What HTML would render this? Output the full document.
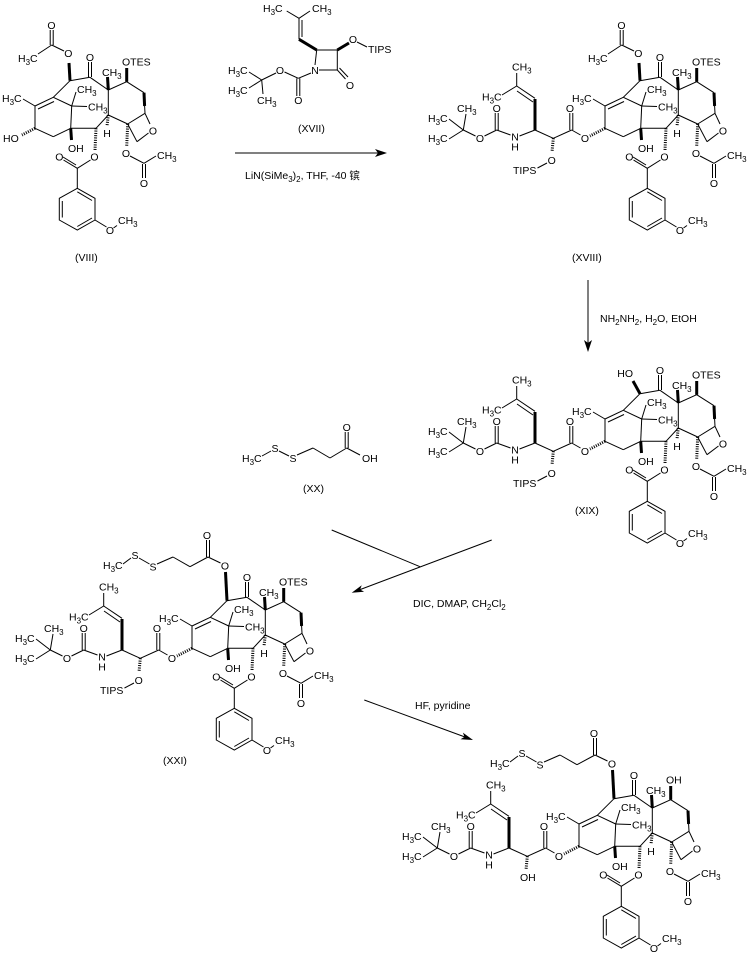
<!DOCTYPE html>
<html><head><meta charset="utf-8"><style>
html,body{margin:0;padding:0;background:#fff;}
svg{display:block;}
svg text{font-family:"Liberation Sans","Noto Sans CJK SC",sans-serif;font-size:10.5px;fill:#000;}
svg text .s{font-size:8px;}
line{stroke:#000;stroke-width:1;fill:none;}
line.b{stroke-width:3;}
line.h{stroke-width:3;stroke-dasharray:1 1.3;}
polygon.r{fill:none;stroke:#000;stroke-width:1;}
polygon.a{fill:#000;stroke:none;}
</style></head><body>
<svg width="750" height="956" viewBox="0 0 750 956" xmlns="http://www.w3.org/2000/svg">

<!-- ===================== VIII ===================== -->
<g transform="translate(0,0)">
<line x1="70" y1="80.7" x2="90" y2="77.3"/>
<line x1="88.5" y1="77" x2="88.5" y2="62"/><line x1="91.5" y1="77" x2="91.5" y2="62"/>
<text x="90" y="61" text-anchor="middle">O</text>
<line x1="90" y1="77.3" x2="108.3" y2="90"/>
<line x1="108.3" y1="90" x2="126.7" y2="81.7"/>
<line x1="126.7" y1="81.7" x2="144" y2="92.7"/>
<line class="b" x1="144" y1="92.7" x2="144.6" y2="106"/><line x1="144.6" y1="106" x2="145" y2="113.3"/>
<line x1="145" y1="113.3" x2="150" y2="124"/>
<text x="153" y="134.5" text-anchor="middle">O</text>
<line x1="148.5" y1="133" x2="137" y2="141.7"/>
<line x1="137" y1="141.7" x2="127.7" y2="124"/>
<line x1="127.7" y1="124" x2="145" y2="113.3"/>
<line x1="127.7" y1="124" x2="108.3" y2="115"/>
<line x1="108.3" y1="115" x2="108.3" y2="90"/>
<line x1="108.3" y1="115" x2="96" y2="128.3"/>
<line x1="96" y1="128.3" x2="70.7" y2="128.3"/>
<line x1="70.7" y1="128.3" x2="71.7" y2="106"/>
<line x1="71.7" y1="106" x2="53.3" y2="97.3"/>
<line x1="53.3" y1="97.3" x2="70" y2="80.7"/>
<line x1="53.3" y1="97.3" x2="35" y2="106"/><line x1="54" y1="101.5" x2="38" y2="109"/>
<line x1="35" y1="106" x2="35" y2="128.3"/>
<line x1="35" y1="128.3" x2="53.3" y2="136.7"/>
<line x1="53.3" y1="136.7" x2="70.7" y2="128.3"/>
<line x1="71.7" y1="106" x2="76" y2="92"/>
<text x="77" y="93">CH<tspan class="s" dy="3">3</tspan></text>
<line x1="71.7" y1="106" x2="87" y2="106.5"/>
<text x="88" y="110.5">CH<tspan class="s" dy="3">3</tspan></text>
<line x1="35" y1="106" x2="23" y2="99"/>
<text x="2" y="102">H<tspan class="s" dy="3">3</tspan><tspan dy="-3">C</tspan></text>
<line class="b" x1="108.3" y1="90" x2="107.5" y2="77"/>
<text x="102" y="76">CH<tspan class="s" dy="3">3</tspan></text>
<line class="b" x1="126.7" y1="81.7" x2="126.7" y2="68"/>
<text x="122" y="65.5">OTES</text>
<line class="h" x1="108.3" y1="115" x2="107" y2="126"/>
<text x="107" y="137" text-anchor="middle">H</text>
<line class="b" x1="70.7" y1="128.3" x2="71.5" y2="140"/>
<text x="68" y="152">OH</text>
<line class="h" x1="96" y1="128.3" x2="95" y2="150"/>
<text x="94.5" y="160.5" text-anchor="middle">O</text>
<line x1="90.5" y1="160" x2="77.3" y2="168.3"/>
<line x1="77.3" y1="168.3" x2="63.5" y2="160"/><line x1="76" y1="165" x2="63" y2="157"/>
<text x="59.3" y="160.5" text-anchor="middle">O</text>
<line x1="77.3" y1="168.3" x2="77.3" y2="188.3"/>
<polygon class="r" points="77.3,188.3 95,198.3 95,220 77.3,230 59.3,220 59.3,198.3"/>
<line x1="77.3" y1="191.8" x2="92" y2="200.5"/><line x1="92" y1="218" x2="77.3" y2="226.5"/><line x1="62.3" y1="201" x2="62.3" y2="217.5"/>
<line x1="95" y1="220" x2="106.5" y2="227"/>
<text x="110" y="234" text-anchor="middle">O</text>
<line x1="113.5" y1="228" x2="117" y2="225.5"/>
<text x="118" y="224">CH<tspan class="s" dy="3">3</tspan></text>
<line class="h" x1="127.7" y1="124" x2="126.7" y2="146"/>
<text x="126" y="157" text-anchor="middle">O</text>
<line x1="130" y1="156" x2="144" y2="163.3"/>
<line x1="144" y1="163.3" x2="156" y2="156"/>
<text x="157" y="159">CH<tspan class="s" dy="3">3</tspan></text>
<line x1="142.5" y1="164" x2="142.5" y2="178"/><line x1="145.5" y1="164" x2="145.5" y2="178"/>
<text x="144" y="187" text-anchor="middle">O</text>
<!-- C10 OAc -->
<line class="b" x1="70" y1="80.7" x2="69" y2="63"/>
<text x="68.3" y="57" text-anchor="middle">O</text>
<line x1="64" y1="51" x2="51.7" y2="45"/>
<line x1="50.2" y1="45" x2="50.2" y2="30"/><line x1="53.2" y1="45" x2="53.2" y2="30"/>
<text x="51.5" y="29" text-anchor="middle">O</text>
<line x1="51.7" y1="45" x2="38" y2="54"/>
<text x="18" y="62">H<tspan class="s" dy="3">3</tspan><tspan dy="-3">C</tspan></text>
<!-- C13 HO -->
<line class="h" x1="35" y1="128.3" x2="22" y2="135"/>
<text x="3" y="142">HO</text>
</g>
<text x="75" y="261">(VIII)</text>

<!-- ===================== XVII ===================== -->
<text x="263" y="12">H<tspan class="s" dy="3">3</tspan><tspan dy="-3">C</tspan></text>
<line x1="286.7" y1="11" x2="299" y2="18.3"/>
<text x="312" y="12">CH<tspan class="s" dy="3">3</tspan></text>
<line x1="310" y1="11" x2="299" y2="18.3"/>
<line x1="299" y1="18.3" x2="299" y2="39.3"/><line x1="302" y1="20" x2="302" y2="37"/>
<line class="b" x1="299" y1="39.3" x2="316.7" y2="50"/>
<line x1="316.7" y1="50" x2="337.3" y2="50"/>
<line class="b" x1="337.3" y1="50" x2="349" y2="43"/>
<text x="353" y="43" text-anchor="middle">O</text>
<line x1="357" y1="42" x2="367" y2="47"/>
<text x="368" y="53">TIPS</text>
<line x1="337.3" y1="50" x2="337.3" y2="70"/>
<line x1="337.3" y1="70" x2="345.5" y2="79"/><line x1="339.5" y1="68" x2="348" y2="77"/>
<text x="350" y="89" text-anchor="middle">O</text>
<line x1="337.3" y1="70" x2="319" y2="70"/>
<text x="315" y="74" text-anchor="middle">N</text>
<line x1="316.7" y1="50" x2="315" y2="65"/>
<line x1="311" y1="73" x2="298.3" y2="78.3"/>
<line x1="296.8" y1="78.3" x2="296.8" y2="96"/><line x1="299.8" y1="78.3" x2="299.8" y2="96"/>
<text x="298.3" y="104" text-anchor="middle">O</text>
<line x1="298.3" y1="78.3" x2="284.5" y2="72"/>
<text x="280" y="74" text-anchor="middle">O</text>
<line x1="276" y1="73" x2="261.7" y2="80"/>
<line x1="261.7" y1="80" x2="249" y2="72"/>
<text x="228" y="74">H<tspan class="s" dy="3">3</tspan><tspan dy="-3">C</tspan></text>
<line x1="261.7" y1="80" x2="249" y2="88"/>
<text x="228" y="94">H<tspan class="s" dy="3">3</tspan><tspan dy="-3">C</tspan></text>
<line x1="261.7" y1="80" x2="263" y2="94"/>
<text x="257" y="104">CH<tspan class="s" dy="3">3</tspan></text>
<text x="298" y="132">(XVII)</text>

<!-- arrow 1 -->
<line x1="235" y1="153" x2="380" y2="153"/>
<polygon class="a" points="387,153 375,149 378,153 375,157"/>
<text x="245" y="179">LiN(SiMe<tspan class="s" dy="3">3</tspan><tspan dy="-3">)</tspan><tspan class="s" dy="3">2</tspan><tspan dy="-3">, THF, -40 镔</tspan></text>

<!-- ===================== XVIII ===================== -->
<g transform="translate(570,0)">
<line x1="70" y1="80.7" x2="90" y2="77.3"/>
<line x1="88.5" y1="77" x2="88.5" y2="62"/><line x1="91.5" y1="77" x2="91.5" y2="62"/>
<text x="90" y="61" text-anchor="middle">O</text>
<line x1="90" y1="77.3" x2="108.3" y2="90"/>
<line x1="108.3" y1="90" x2="126.7" y2="81.7"/>
<line x1="126.7" y1="81.7" x2="144" y2="92.7"/>
<line class="b" x1="144" y1="92.7" x2="144.6" y2="106"/><line x1="144.6" y1="106" x2="145" y2="113.3"/>
<line x1="145" y1="113.3" x2="150" y2="124"/>
<text x="153" y="134.5" text-anchor="middle">O</text>
<line x1="148.5" y1="133" x2="137" y2="141.7"/>
<line x1="137" y1="141.7" x2="127.7" y2="124"/>
<line x1="127.7" y1="124" x2="145" y2="113.3"/>
<line x1="127.7" y1="124" x2="108.3" y2="115"/>
<line x1="108.3" y1="115" x2="108.3" y2="90"/>
<line x1="108.3" y1="115" x2="96" y2="128.3"/>
<line x1="96" y1="128.3" x2="70.7" y2="128.3"/>
<line x1="70.7" y1="128.3" x2="71.7" y2="106"/>
<line x1="71.7" y1="106" x2="53.3" y2="97.3"/>
<line x1="53.3" y1="97.3" x2="70" y2="80.7"/>
<line x1="53.3" y1="97.3" x2="35" y2="106"/><line x1="54" y1="101.5" x2="38" y2="109"/>
<line x1="35" y1="106" x2="35" y2="128.3"/>
<line x1="35" y1="128.3" x2="53.3" y2="136.7"/>
<line x1="53.3" y1="136.7" x2="70.7" y2="128.3"/>
<line x1="71.7" y1="106" x2="76" y2="92"/>
<text x="77" y="93">CH<tspan class="s" dy="3">3</tspan></text>
<line x1="71.7" y1="106" x2="87" y2="106.5"/>
<text x="88" y="110.5">CH<tspan class="s" dy="3">3</tspan></text>
<line x1="35" y1="106" x2="23" y2="99"/>
<text x="2" y="102">H<tspan class="s" dy="3">3</tspan><tspan dy="-3">C</tspan></text>
<line class="b" x1="108.3" y1="90" x2="107.5" y2="77"/>
<text x="102" y="76">CH<tspan class="s" dy="3">3</tspan></text>
<line class="b" x1="126.7" y1="81.7" x2="126.7" y2="68"/>
<text x="122" y="65.5">OTES</text>
<line class="h" x1="108.3" y1="115" x2="107" y2="126"/>
<text x="107" y="137" text-anchor="middle">H</text>
<line class="b" x1="70.7" y1="128.3" x2="71.5" y2="140"/>
<text x="68" y="152">OH</text>
<line class="h" x1="96" y1="128.3" x2="95" y2="150"/>
<text x="94.5" y="160.5" text-anchor="middle">O</text>
<line x1="90.5" y1="160" x2="77.3" y2="168.3"/>
<line x1="77.3" y1="168.3" x2="63.5" y2="160"/><line x1="76" y1="165" x2="63" y2="157"/>
<text x="59.3" y="160.5" text-anchor="middle">O</text>
<line x1="77.3" y1="168.3" x2="77.3" y2="188.3"/>
<polygon class="r" points="77.3,188.3 95,198.3 95,220 77.3,230 59.3,220 59.3,198.3"/>
<line x1="77.3" y1="191.8" x2="92" y2="200.5"/><line x1="92" y1="218" x2="77.3" y2="226.5"/><line x1="62.3" y1="201" x2="62.3" y2="217.5"/>
<line x1="95" y1="220" x2="106.5" y2="227"/>
<text x="110" y="234" text-anchor="middle">O</text>
<line x1="113.5" y1="228" x2="117" y2="225.5"/>
<text x="118" y="224">CH<tspan class="s" dy="3">3</tspan></text>
<line class="h" x1="127.7" y1="124" x2="126.7" y2="146"/>
<text x="126" y="157" text-anchor="middle">O</text>
<line x1="130" y1="156" x2="144" y2="163.3"/>
<line x1="144" y1="163.3" x2="156" y2="156"/>
<text x="157" y="159">CH<tspan class="s" dy="3">3</tspan></text>
<line x1="142.5" y1="164" x2="142.5" y2="178"/><line x1="145.5" y1="164" x2="145.5" y2="178"/>
<text x="144" y="187" text-anchor="middle">O</text>
<line class="b" x1="70" y1="80.7" x2="69" y2="63"/>
<text x="68.3" y="57" text-anchor="middle">O</text>
<line x1="64" y1="51" x2="51.7" y2="45"/>
<line x1="50.2" y1="45" x2="50.2" y2="30"/><line x1="53.2" y1="45" x2="53.2" y2="30"/>
<text x="51.5" y="29" text-anchor="middle">O</text>
<line x1="51.7" y1="45" x2="38" y2="54"/>
<text x="18" y="62">H<tspan class="s" dy="3">3</tspan><tspan dy="-3">C</tspan></text>
<line class="h" x1="35" y1="128.3" x2="20" y2="136"/>
</g>
<g transform="translate(0,0)">
<text x="585" y="142" text-anchor="middle">O</text>
<line x1="580.5" y1="135" x2="571.7" y2="130"/>
<line x1="569.8" y1="130" x2="569.8" y2="113"/><line x1="572.8" y1="130" x2="572.8" y2="113"/>
<text x="570" y="112" text-anchor="middle">O</text>
<line x1="571.7" y1="130" x2="553.3" y2="138.3"/>
<line class="h" x1="553.3" y1="138.3" x2="552" y2="152"/>
<text x="551.7" y="164" text-anchor="middle">O</text>
<line x1="547" y1="163" x2="537.5" y2="168"/>
<text x="513" y="174">TIPS</text>
<line x1="553.3" y1="138.3" x2="535" y2="130"/>
<line class="b" x1="535" y1="130" x2="535" y2="99"/>
<line x1="535" y1="98.3" x2="516.7" y2="86"/><line x1="533" y1="102" x2="517" y2="91"/>
<line x1="516.7" y1="86" x2="516.7" y2="73"/>
<text x="512" y="70.5">CH<tspan class="s" dy="3">3</tspan></text>
<line x1="516.7" y1="86" x2="502" y2="95"/>
<text x="482" y="100.5">H<tspan class="s" dy="3">3</tspan><tspan dy="-3">C</tspan></text>
<line x1="535" y1="130" x2="519.5" y2="136"/>
<text x="515" y="140.5" text-anchor="middle">N</text>
<text x="515" y="150.5" text-anchor="middle">H</text>
<line x1="510.5" y1="135" x2="496.7" y2="130"/>
<line x1="495.2" y1="130" x2="495.2" y2="113"/><line x1="498.2" y1="130" x2="498.2" y2="113"/>
<text x="496.7" y="112" text-anchor="middle">O</text>
<line x1="496.7" y1="130" x2="484.5" y2="136"/>
<text x="480" y="142" text-anchor="middle">O</text>
<line x1="475.5" y1="136" x2="463.3" y2="130"/>
<line x1="463.3" y1="130" x2="466" y2="114"/>
<text x="457" y="112">CH<tspan class="s" dy="3">3</tspan></text>
<line x1="463.3" y1="130" x2="449" y2="119"/>
<text x="428" y="122">H<tspan class="s" dy="3">3</tspan><tspan dy="-3">C</tspan></text>
<line x1="463.3" y1="130" x2="449" y2="139"/>
<text x="428" y="142">H<tspan class="s" dy="3">3</tspan><tspan dy="-3">C</tspan></text>
</g>
<text x="572" y="261">(XVIII)</text>

<!-- arrow 2 -->
<line x1="588" y1="280" x2="588" y2="345"/>
<polygon class="a" points="588,352 584,340 588,343 592,340"/>
<text x="600" y="322">NH<tspan class="s" dy="3">2</tspan><tspan dy="-3">NH</tspan><tspan class="s" dy="3">2</tspan><tspan dy="-3">, H</tspan><tspan class="s" dy="3">2</tspan><tspan dy="-3">O, EtOH</tspan></text>

<!-- ===================== XIX ===================== -->
<g transform="translate(570,313)">
<line x1="70" y1="80.7" x2="90" y2="77.3"/>
<line x1="88.5" y1="77" x2="88.5" y2="62"/><line x1="91.5" y1="77" x2="91.5" y2="62"/>
<text x="90" y="61" text-anchor="middle">O</text>
<line x1="90" y1="77.3" x2="108.3" y2="90"/>
<line x1="108.3" y1="90" x2="126.7" y2="81.7"/>
<line x1="126.7" y1="81.7" x2="144" y2="92.7"/>
<line class="b" x1="144" y1="92.7" x2="144.6" y2="106"/><line x1="144.6" y1="106" x2="145" y2="113.3"/>
<line x1="145" y1="113.3" x2="150" y2="124"/>
<text x="153" y="134.5" text-anchor="middle">O</text>
<line x1="148.5" y1="133" x2="137" y2="141.7"/>
<line x1="137" y1="141.7" x2="127.7" y2="124"/>
<line x1="127.7" y1="124" x2="145" y2="113.3"/>
<line x1="127.7" y1="124" x2="108.3" y2="115"/>
<line x1="108.3" y1="115" x2="108.3" y2="90"/>
<line x1="108.3" y1="115" x2="96" y2="128.3"/>
<line x1="96" y1="128.3" x2="70.7" y2="128.3"/>
<line x1="70.7" y1="128.3" x2="71.7" y2="106"/>
<line x1="71.7" y1="106" x2="53.3" y2="97.3"/>
<line x1="53.3" y1="97.3" x2="70" y2="80.7"/>
<line x1="53.3" y1="97.3" x2="35" y2="106"/><line x1="54" y1="101.5" x2="38" y2="109"/>
<line x1="35" y1="106" x2="35" y2="128.3"/>
<line x1="35" y1="128.3" x2="53.3" y2="136.7"/>
<line x1="53.3" y1="136.7" x2="70.7" y2="128.3"/>
<line x1="71.7" y1="106" x2="76" y2="92"/>
<text x="77" y="93">CH<tspan class="s" dy="3">3</tspan></text>
<line x1="71.7" y1="106" x2="87" y2="106.5"/>
<text x="88" y="110.5">CH<tspan class="s" dy="3">3</tspan></text>
<line x1="35" y1="106" x2="23" y2="99"/>
<text x="2" y="102">H<tspan class="s" dy="3">3</tspan><tspan dy="-3">C</tspan></text>
<line class="b" x1="108.3" y1="90" x2="107.5" y2="77"/>
<text x="102" y="76">CH<tspan class="s" dy="3">3</tspan></text>
<line class="b" x1="126.7" y1="81.7" x2="126.7" y2="68"/>
<text x="122" y="65.5">OTES</text>
<line class="h" x1="108.3" y1="115" x2="107" y2="126"/>
<text x="107" y="137" text-anchor="middle">H</text>
<line class="b" x1="70.7" y1="128.3" x2="71.5" y2="140"/>
<text x="68" y="152">OH</text>
<line class="h" x1="96" y1="128.3" x2="95" y2="150"/>
<text x="94.5" y="160.5" text-anchor="middle">O</text>
<line x1="90.5" y1="160" x2="77.3" y2="168.3"/>
<line x1="77.3" y1="168.3" x2="63.5" y2="160"/><line x1="76" y1="165" x2="63" y2="157"/>
<text x="59.3" y="160.5" text-anchor="middle">O</text>
<line x1="77.3" y1="168.3" x2="77.3" y2="188.3"/>
<polygon class="r" points="77.3,188.3 95,198.3 95,220 77.3,230 59.3,220 59.3,198.3"/>
<line x1="77.3" y1="191.8" x2="92" y2="200.5"/><line x1="92" y1="218" x2="77.3" y2="226.5"/><line x1="62.3" y1="201" x2="62.3" y2="217.5"/>
<line x1="95" y1="220" x2="106.5" y2="227"/>
<text x="110" y="234" text-anchor="middle">O</text>
<line x1="113.5" y1="228" x2="117" y2="225.5"/>
<text x="118" y="224">CH<tspan class="s" dy="3">3</tspan></text>
<line class="h" x1="127.7" y1="124" x2="126.7" y2="146"/>
<text x="126" y="157" text-anchor="middle">O</text>
<line x1="130" y1="156" x2="144" y2="163.3"/>
<line x1="144" y1="163.3" x2="156" y2="156"/>
<text x="157" y="159">CH<tspan class="s" dy="3">3</tspan></text>
<line x1="142.5" y1="164" x2="142.5" y2="178"/><line x1="145.5" y1="164" x2="145.5" y2="178"/>
<text x="144" y="187" text-anchor="middle">O</text>
<line class="b" x1="70" y1="80.7" x2="63" y2="68"/>
<text x="63" y="64" text-anchor="end">HO</text>
<line class="h" x1="35" y1="128.3" x2="20" y2="136"/>
</g>
<g transform="translate(0,313)">
<text x="585" y="142" text-anchor="middle">O</text>
<line x1="580.5" y1="135" x2="571.7" y2="130"/>
<line x1="569.8" y1="130" x2="569.8" y2="113"/><line x1="572.8" y1="130" x2="572.8" y2="113"/>
<text x="570" y="112" text-anchor="middle">O</text>
<line x1="571.7" y1="130" x2="553.3" y2="138.3"/>
<line class="h" x1="553.3" y1="138.3" x2="552" y2="152"/>
<text x="551.7" y="164" text-anchor="middle">O</text>
<line x1="547" y1="163" x2="537.5" y2="168"/>
<text x="513" y="174">TIPS</text>
<line x1="553.3" y1="138.3" x2="535" y2="130"/>
<line class="b" x1="535" y1="130" x2="535" y2="99"/>
<line x1="535" y1="98.3" x2="516.7" y2="86"/><line x1="533" y1="102" x2="517" y2="91"/>
<line x1="516.7" y1="86" x2="516.7" y2="73"/>
<text x="512" y="70.5">CH<tspan class="s" dy="3">3</tspan></text>
<line x1="516.7" y1="86" x2="502" y2="95"/>
<text x="482" y="100.5">H<tspan class="s" dy="3">3</tspan><tspan dy="-3">C</tspan></text>
<line x1="535" y1="130" x2="519.5" y2="136"/>
<text x="515" y="140.5" text-anchor="middle">N</text>
<text x="515" y="150.5" text-anchor="middle">H</text>
<line x1="510.5" y1="135" x2="496.7" y2="130"/>
<line x1="495.2" y1="130" x2="495.2" y2="113"/><line x1="498.2" y1="130" x2="498.2" y2="113"/>
<text x="496.7" y="112" text-anchor="middle">O</text>
<line x1="496.7" y1="130" x2="484.5" y2="136"/>
<text x="480" y="142" text-anchor="middle">O</text>
<line x1="475.5" y1="136" x2="463.3" y2="130"/>
<line x1="463.3" y1="130" x2="466" y2="114"/>
<text x="457" y="112">CH<tspan class="s" dy="3">3</tspan></text>
<line x1="463.3" y1="130" x2="449" y2="119"/>
<text x="428" y="122">H<tspan class="s" dy="3">3</tspan><tspan dy="-3">C</tspan></text>
<line x1="463.3" y1="130" x2="449" y2="139"/>
<text x="428" y="142">H<tspan class="s" dy="3">3</tspan><tspan dy="-3">C</tspan></text>
</g>
<text x="575" y="514">(XIX)</text>

<!-- ===================== XX ===================== -->
<text x="242" y="462">H<tspan class="s" dy="3">3</tspan><tspan dy="-3">C</tspan></text>
<line x1="262" y1="456" x2="271" y2="451"/>
<text x="275" y="452" text-anchor="middle">S</text>
<line x1="279" y1="451" x2="289" y2="456"/>
<text x="293" y="462" text-anchor="middle">S</text>
<line x1="297" y1="455" x2="313" y2="448"/>
<line x1="313" y1="448" x2="330" y2="458"/>
<line x1="330" y1="458" x2="346.7" y2="448"/>
<line x1="345.2" y1="448" x2="345.2" y2="432"/><line x1="348.2" y1="448" x2="348.2" y2="432"/>
<text x="346.7" y="431" text-anchor="middle">O</text>
<line x1="346.7" y1="448" x2="360" y2="455"/>
<text x="362" y="462">OH</text>
<text x="303" y="492">(XX)</text>

<!-- converging arrow -->
<line x1="331.7" y1="530" x2="420" y2="566.7"/>
<line x1="491.7" y1="540" x2="360" y2="589.6"/>
<polygon class="a" points="351.7,592.7 364.1,591.8 360.1,589.5 361.7,585.2"/>
<text x="413" y="607">DIC, DMAP, CH<tspan class="s" dy="3">2</tspan><tspan dy="-3">Cl</tspan><tspan class="s" dy="3">2</tspan></text>

<!-- ===================== XXI ===================== -->
<g transform="translate(157,520)">
<line x1="70" y1="80.7" x2="90" y2="77.3"/>
<line x1="88.5" y1="77" x2="88.5" y2="62"/><line x1="91.5" y1="77" x2="91.5" y2="62"/>
<text x="90" y="61" text-anchor="middle">O</text>
<line x1="90" y1="77.3" x2="108.3" y2="90"/>
<line x1="108.3" y1="90" x2="126.7" y2="81.7"/>
<line x1="126.7" y1="81.7" x2="144" y2="92.7"/>
<line class="b" x1="144" y1="92.7" x2="144.6" y2="106"/><line x1="144.6" y1="106" x2="145" y2="113.3"/>
<line x1="145" y1="113.3" x2="150" y2="124"/>
<text x="153" y="134.5" text-anchor="middle">O</text>
<line x1="148.5" y1="133" x2="137" y2="141.7"/>
<line x1="137" y1="141.7" x2="127.7" y2="124"/>
<line x1="127.7" y1="124" x2="145" y2="113.3"/>
<line x1="127.7" y1="124" x2="108.3" y2="115"/>
<line x1="108.3" y1="115" x2="108.3" y2="90"/>
<line x1="108.3" y1="115" x2="96" y2="128.3"/>
<line x1="96" y1="128.3" x2="70.7" y2="128.3"/>
<line x1="70.7" y1="128.3" x2="71.7" y2="106"/>
<line x1="71.7" y1="106" x2="53.3" y2="97.3"/>
<line x1="53.3" y1="97.3" x2="70" y2="80.7"/>
<line x1="53.3" y1="97.3" x2="35" y2="106"/><line x1="54" y1="101.5" x2="38" y2="109"/>
<line x1="35" y1="106" x2="35" y2="128.3"/>
<line x1="35" y1="128.3" x2="53.3" y2="136.7"/>
<line x1="53.3" y1="136.7" x2="70.7" y2="128.3"/>
<line x1="71.7" y1="106" x2="76" y2="92"/>
<text x="77" y="93">CH<tspan class="s" dy="3">3</tspan></text>
<line x1="71.7" y1="106" x2="87" y2="106.5"/>
<text x="88" y="110.5">CH<tspan class="s" dy="3">3</tspan></text>
<line x1="35" y1="106" x2="23" y2="99"/>
<text x="2" y="102">H<tspan class="s" dy="3">3</tspan><tspan dy="-3">C</tspan></text>
<line class="b" x1="108.3" y1="90" x2="107.5" y2="77"/>
<text x="102" y="76">CH<tspan class="s" dy="3">3</tspan></text>
<line class="b" x1="126.7" y1="81.7" x2="126.7" y2="68"/>
<text x="122" y="65.5">OTES</text>
<line class="h" x1="108.3" y1="115" x2="107" y2="126"/>
<text x="107" y="137" text-anchor="middle">H</text>
<line class="b" x1="70.7" y1="128.3" x2="71.5" y2="140"/>
<text x="68" y="152">OH</text>
<line class="h" x1="96" y1="128.3" x2="95" y2="150"/>
<text x="94.5" y="160.5" text-anchor="middle">O</text>
<line x1="90.5" y1="160" x2="77.3" y2="168.3"/>
<line x1="77.3" y1="168.3" x2="63.5" y2="160"/><line x1="76" y1="165" x2="63" y2="157"/>
<text x="59.3" y="160.5" text-anchor="middle">O</text>
<line x1="77.3" y1="168.3" x2="77.3" y2="188.3"/>
<polygon class="r" points="77.3,188.3 95,198.3 95,220 77.3,230 59.3,220 59.3,198.3"/>
<line x1="77.3" y1="191.8" x2="92" y2="200.5"/><line x1="92" y1="218" x2="77.3" y2="226.5"/><line x1="62.3" y1="201" x2="62.3" y2="217.5"/>
<line x1="95" y1="220" x2="106.5" y2="227"/>
<text x="110" y="234" text-anchor="middle">O</text>
<line x1="113.5" y1="228" x2="117" y2="225.5"/>
<text x="118" y="224">CH<tspan class="s" dy="3">3</tspan></text>
<line class="h" x1="127.7" y1="124" x2="126.7" y2="146"/>
<text x="126" y="157" text-anchor="middle">O</text>
<line x1="130" y1="156" x2="144" y2="163.3"/>
<line x1="144" y1="163.3" x2="156" y2="156"/>
<text x="157" y="159">CH<tspan class="s" dy="3">3</tspan></text>
<line x1="142.5" y1="164" x2="142.5" y2="178"/><line x1="145.5" y1="164" x2="145.5" y2="178"/>
<text x="144" y="187" text-anchor="middle">O</text>
<line class="h" x1="35" y1="128.3" x2="20" y2="136"/>
<!-- C10 ester chain -->
<line class="b" x1="70" y1="80.7" x2="68.5" y2="52"/>
<text x="68" y="49.5" text-anchor="middle">O</text>
<line x1="63.5" y1="43" x2="51" y2="37"/>
<line x1="49.5" y1="37" x2="49.5" y2="20"/><line x1="52.5" y1="37" x2="52.5" y2="20"/>
<text x="50" y="19" text-anchor="middle">O</text>
<line x1="51" y1="37" x2="33" y2="46.7"/>
<line x1="33" y1="46.7" x2="16" y2="37"/>
<line x1="16" y1="37" x2="0" y2="44"/>
<text x="-4" y="50.5" text-anchor="middle">S</text>
<line x1="-7.5" y1="44" x2="-18" y2="38"/>
<text x="-22" y="39" text-anchor="middle">S</text>
<line x1="-26" y1="38" x2="-34" y2="44"/>
<text x="-54" y="49">H<tspan class="s" dy="3">3</tspan><tspan dy="-3">C</tspan></text>
</g>
<g transform="translate(-413,520)">
<text x="585" y="142" text-anchor="middle">O</text>
<line x1="580.5" y1="135" x2="571.7" y2="130"/>
<line x1="569.8" y1="130" x2="569.8" y2="113"/><line x1="572.8" y1="130" x2="572.8" y2="113"/>
<text x="570" y="112" text-anchor="middle">O</text>
<line x1="571.7" y1="130" x2="553.3" y2="138.3"/>
<line class="h" x1="553.3" y1="138.3" x2="552" y2="152"/>
<text x="551.7" y="164" text-anchor="middle">O</text>
<line x1="547" y1="163" x2="537.5" y2="168"/>
<text x="513" y="174">TIPS</text>
<line x1="553.3" y1="138.3" x2="535" y2="130"/>
<line class="b" x1="535" y1="130" x2="535" y2="99"/>
<line x1="535" y1="98.3" x2="516.7" y2="86"/><line x1="533" y1="102" x2="517" y2="91"/>
<line x1="516.7" y1="86" x2="516.7" y2="73"/>
<text x="512" y="70.5">CH<tspan class="s" dy="3">3</tspan></text>
<line x1="516.7" y1="86" x2="502" y2="95"/>
<text x="482" y="100.5">H<tspan class="s" dy="3">3</tspan><tspan dy="-3">C</tspan></text>
<line x1="535" y1="130" x2="519.5" y2="136"/>
<text x="515" y="140.5" text-anchor="middle">N</text>
<text x="515" y="150.5" text-anchor="middle">H</text>
<line x1="510.5" y1="135" x2="496.7" y2="130"/>
<line x1="495.2" y1="130" x2="495.2" y2="113"/><line x1="498.2" y1="130" x2="498.2" y2="113"/>
<text x="496.7" y="112" text-anchor="middle">O</text>
<line x1="496.7" y1="130" x2="484.5" y2="136"/>
<text x="480" y="142" text-anchor="middle">O</text>
<line x1="475.5" y1="136" x2="463.3" y2="130"/>
<line x1="463.3" y1="130" x2="466" y2="114"/>
<text x="457" y="112">CH<tspan class="s" dy="3">3</tspan></text>
<line x1="463.3" y1="130" x2="449" y2="119"/>
<text x="428" y="122">H<tspan class="s" dy="3">3</tspan><tspan dy="-3">C</tspan></text>
<line x1="463.3" y1="130" x2="449" y2="139"/>
<text x="428" y="142">H<tspan class="s" dy="3">3</tspan><tspan dy="-3">C</tspan></text>
</g>
<text x="163" y="764">(XXI)</text>

<!-- arrow HF -->
<line x1="364.3" y1="700" x2="465" y2="737"/>
<polygon class="a" points="473,740 460.5,739.2 464.5,736.9 462.9,732.6"/>
<text x="415" y="709">HF, pyridine</text>

<!-- ===================== Final product ===================== -->
<g transform="translate(544,718)">
<line x1="70" y1="80.7" x2="90" y2="77.3"/>
<line x1="88.5" y1="77" x2="88.5" y2="62"/><line x1="91.5" y1="77" x2="91.5" y2="62"/>
<text x="90" y="61" text-anchor="middle">O</text>
<line x1="90" y1="77.3" x2="108.3" y2="90"/>
<line x1="108.3" y1="90" x2="126.7" y2="81.7"/>
<line x1="126.7" y1="81.7" x2="144" y2="92.7"/>
<line class="b" x1="144" y1="92.7" x2="144.6" y2="106"/><line x1="144.6" y1="106" x2="145" y2="113.3"/>
<line x1="145" y1="113.3" x2="150" y2="124"/>
<text x="153" y="134.5" text-anchor="middle">O</text>
<line x1="148.5" y1="133" x2="137" y2="141.7"/>
<line x1="137" y1="141.7" x2="127.7" y2="124"/>
<line x1="127.7" y1="124" x2="145" y2="113.3"/>
<line x1="127.7" y1="124" x2="108.3" y2="115"/>
<line x1="108.3" y1="115" x2="108.3" y2="90"/>
<line x1="108.3" y1="115" x2="96" y2="128.3"/>
<line x1="96" y1="128.3" x2="70.7" y2="128.3"/>
<line x1="70.7" y1="128.3" x2="71.7" y2="106"/>
<line x1="71.7" y1="106" x2="53.3" y2="97.3"/>
<line x1="53.3" y1="97.3" x2="70" y2="80.7"/>
<line x1="53.3" y1="97.3" x2="35" y2="106"/><line x1="54" y1="101.5" x2="38" y2="109"/>
<line x1="35" y1="106" x2="35" y2="128.3"/>
<line x1="35" y1="128.3" x2="53.3" y2="136.7"/>
<line x1="53.3" y1="136.7" x2="70.7" y2="128.3"/>
<line x1="71.7" y1="106" x2="76" y2="92"/>
<text x="77" y="93">CH<tspan class="s" dy="3">3</tspan></text>
<line x1="71.7" y1="106" x2="87" y2="106.5"/>
<text x="88" y="110.5">CH<tspan class="s" dy="3">3</tspan></text>
<line x1="35" y1="106" x2="23" y2="99"/>
<text x="2" y="102">H<tspan class="s" dy="3">3</tspan><tspan dy="-3">C</tspan></text>
<line class="b" x1="108.3" y1="90" x2="107.5" y2="77"/>
<text x="102" y="76">CH<tspan class="s" dy="3">3</tspan></text>
<line class="b" x1="126.7" y1="81.7" x2="126.7" y2="68"/>
<text x="122" y="65.5">OH</text>
<line class="h" x1="108.3" y1="115" x2="107" y2="126"/>
<text x="107" y="137" text-anchor="middle">H</text>
<line class="b" x1="70.7" y1="128.3" x2="71.5" y2="140"/>
<text x="68" y="152">OH</text>
<line class="h" x1="96" y1="128.3" x2="95" y2="150"/>
<text x="94.5" y="160.5" text-anchor="middle">O</text>
<line x1="90.5" y1="160" x2="77.3" y2="168.3"/>
<line x1="77.3" y1="168.3" x2="63.5" y2="160"/><line x1="76" y1="165" x2="63" y2="157"/>
<text x="59.3" y="160.5" text-anchor="middle">O</text>
<line x1="77.3" y1="168.3" x2="77.3" y2="188.3"/>
<polygon class="r" points="77.3,188.3 95,198.3 95,220 77.3,230 59.3,220 59.3,198.3"/>
<line x1="77.3" y1="191.8" x2="92" y2="200.5"/><line x1="92" y1="218" x2="77.3" y2="226.5"/><line x1="62.3" y1="201" x2="62.3" y2="217.5"/>
<line x1="95" y1="220" x2="106.5" y2="227"/>
<text x="110" y="234" text-anchor="middle">O</text>
<line x1="113.5" y1="228" x2="117" y2="225.5"/>
<text x="118" y="224">CH<tspan class="s" dy="3">3</tspan></text>
<line class="h" x1="127.7" y1="124" x2="126.7" y2="146"/>
<text x="126" y="157" text-anchor="middle">O</text>
<line x1="130" y1="156" x2="144" y2="163.3"/>
<line x1="144" y1="163.3" x2="156" y2="156"/>
<text x="157" y="159">CH<tspan class="s" dy="3">3</tspan></text>
<line x1="142.5" y1="164" x2="142.5" y2="178"/><line x1="145.5" y1="164" x2="145.5" y2="178"/>
<text x="144" y="187" text-anchor="middle">O</text>
<line class="h" x1="35" y1="128.3" x2="20" y2="136"/>
<line class="b" x1="70" y1="80.7" x2="68.5" y2="52"/>
<text x="68" y="49.5" text-anchor="middle">O</text>
<line x1="63.5" y1="43" x2="51" y2="37"/>
<line x1="49.5" y1="37" x2="49.5" y2="20"/><line x1="52.5" y1="37" x2="52.5" y2="20"/>
<text x="50" y="19" text-anchor="middle">O</text>
<line x1="51" y1="37" x2="33" y2="46.7"/>
<line x1="33" y1="46.7" x2="16" y2="37"/>
<line x1="16" y1="37" x2="0" y2="44"/>
<text x="-4" y="50.5" text-anchor="middle">S</text>
<line x1="-7.5" y1="44" x2="-18" y2="38"/>
<text x="-22" y="39" text-anchor="middle">S</text>
<line x1="-26" y1="38" x2="-34" y2="44"/>
<text x="-54" y="49">H<tspan class="s" dy="3">3</tspan><tspan dy="-3">C</tspan></text>
</g>
<g transform="translate(-26,718)">
<text x="585" y="142" text-anchor="middle">O</text>
<line x1="580.5" y1="135" x2="571.7" y2="130"/>
<line x1="569.8" y1="130" x2="569.8" y2="113"/><line x1="572.8" y1="130" x2="572.8" y2="113"/>
<text x="570" y="112" text-anchor="middle">O</text>
<line x1="571.7" y1="130" x2="553.3" y2="138.3"/>
<line class="h" x1="553.3" y1="138.3" x2="552" y2="152"/>
<text x="546" y="163">OH</text>
<line x1="553.3" y1="138.3" x2="535" y2="130"/>
<line class="b" x1="535" y1="130" x2="535" y2="99"/>
<line x1="535" y1="98.3" x2="516.7" y2="86"/><line x1="533" y1="102" x2="517" y2="91"/>
<line x1="516.7" y1="86" x2="516.7" y2="73"/>
<text x="512" y="70.5">CH<tspan class="s" dy="3">3</tspan></text>
<line x1="516.7" y1="86" x2="502" y2="95"/>
<text x="482" y="100.5">H<tspan class="s" dy="3">3</tspan><tspan dy="-3">C</tspan></text>
<line x1="535" y1="130" x2="519.5" y2="136"/>
<text x="515" y="140.5" text-anchor="middle">N</text>
<text x="515" y="150.5" text-anchor="middle">H</text>
<line x1="510.5" y1="135" x2="496.7" y2="130"/>
<line x1="495.2" y1="130" x2="495.2" y2="113"/><line x1="498.2" y1="130" x2="498.2" y2="113"/>
<text x="496.7" y="112" text-anchor="middle">O</text>
<line x1="496.7" y1="130" x2="484.5" y2="136"/>
<text x="480" y="142" text-anchor="middle">O</text>
<line x1="475.5" y1="136" x2="463.3" y2="130"/>
<line x1="463.3" y1="130" x2="466" y2="114"/>
<text x="457" y="112">CH<tspan class="s" dy="3">3</tspan></text>
<line x1="463.3" y1="130" x2="449" y2="119"/>
<text x="428" y="122">H<tspan class="s" dy="3">3</tspan><tspan dy="-3">C</tspan></text>
<line x1="463.3" y1="130" x2="449" y2="139"/>
<text x="428" y="142">H<tspan class="s" dy="3">3</tspan><tspan dy="-3">C</tspan></text>
</g>

</svg>
</body></html>
